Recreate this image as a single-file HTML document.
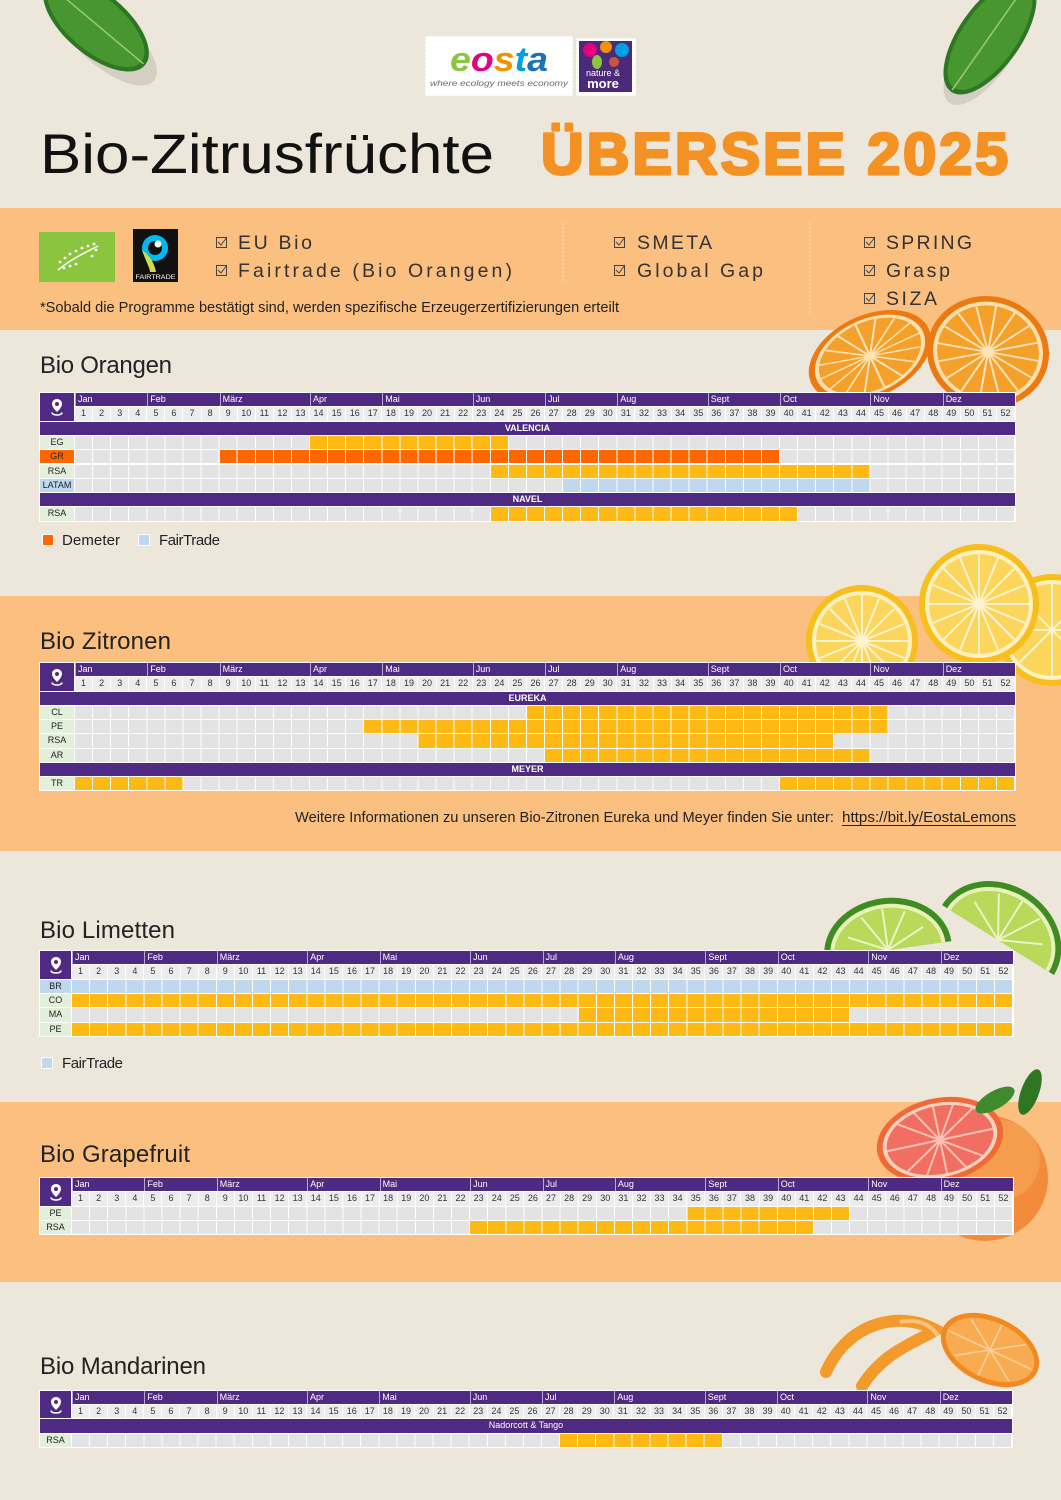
<!DOCTYPE html>
<html><head><meta charset="utf-8">
<style>
*{box-sizing:border-box}
body{margin:0;width:1061px;height:1500px;position:relative;overflow:hidden;background:#ede6da;font-family:"Liberation Sans",sans-serif;}
.band{position:absolute;left:0;width:1061px;background:#fbc080}
svg.deco{position:absolute;left:0;top:0}
.chart{position:absolute;background:#fff;box-shadow:0 0 0 1px #fff;font-size:9px;line-height:1;font-family:"Liberation Sans",sans-serif}
.chart>div{position:absolute;height:calc(var(--P) - 1px)}
.chart>.ic{left:0;top:0;width:calc(var(--L) - 1px);height:calc(var(--P)*2 - 1px);background:#4f2a82;display:flex;align-items:center;justify-content:center}
.chart>.m{left:var(--L);right:0;top:0;background:#4f2a82;color:#fff}
.m span{position:absolute;top:0;bottom:0;left:calc(var(--cw)*var(--s));padding-left:2px;border-left:1px solid #b7a7d4;line-height:calc(var(--P) - 1px)}
.chart>.w{left:var(--L);right:0;top:var(--P);display:flex;background:#fff}
.w span{flex:1;background:#ececec;margin-right:1px;text-align:center;color:#333;line-height:calc(var(--P) - 1px)}
.chart>.t{left:0;right:0;background:#4f2a82;color:#fff;font-weight:bold;text-align:center;line-height:calc(var(--P) - 1px)}
.chart>.d{left:0;right:0}
.lb{position:absolute;left:0;top:0;bottom:0;width:calc(var(--L) - 1px);background:#e2efda;text-align:center;font-weight:normal;color:#222;line-height:calc(var(--P) - 1px)}
.lb.o{background:#fe6700}.lb.b{background:#bfd7ef}
.g{position:absolute;left:var(--L);right:0;top:0;bottom:0;background:#e3e3e3;overflow:hidden}
.g i{position:absolute;top:0;bottom:0;left:calc(var(--cw)*var(--s));width:calc(var(--cw)*var(--n));background:#ffb915}
.g i.o{background:#fe6700}.g i.b{background:#bfd7ef}
.g:after{content:"";position:absolute;left:0;top:0;right:0;bottom:0;background:repeating-linear-gradient(90deg,transparent 0,transparent calc(var(--cw) - 1px),#fff calc(var(--cw) - 1px),#fff var(--cw))}
</style></head>
<body>

<div class="band" style="top:208px;height:122px"></div>
<div class="band" style="top:596px;height:255px"></div>
<div class="band" style="top:1102px;height:180px"></div>

<svg class="deco" width="1061" height="1500" viewBox="0 0 1061 1500" font-family="Liberation Sans, sans-serif">
  <!-- leaves -->
  <ellipse cx="108" cy="42" rx="60" ry="26" transform="rotate(40 108 42)" fill="#000" opacity="0.10"/>
  <g transform="translate(96,24) rotate(40)"><ellipse rx="64" ry="31" fill="#2f7622"/><ellipse rx="59" ry="27" fill="#489630"/><path d="M-62 0H62" stroke="#9cc87a" stroke-width="1.5"/></g>
  <ellipse cx="985" cy="52" rx="62" ry="26" transform="rotate(-55 985 52)" fill="#000" opacity="0.10"/>
  <g transform="translate(990,36) rotate(-55)"><ellipse rx="68" ry="31" fill="#2f7622"/><ellipse rx="63" ry="27" fill="#489630"/><path d="M-66 0H66" stroke="#9cc87a" stroke-width="1.5"/></g>

  <!-- logos -->
  <rect x="425" y="36" width="148" height="60" fill="#fff" stroke="#e4e4e4" stroke-dasharray="2 2"/>
  <text x="450" y="71" font-size="34" font-weight="bold" font-style="italic" textLength="98" lengthAdjust="spacingAndGlyphs"><tspan fill="#8cc63f">e</tspan><tspan fill="#e5007e">o</tspan><tspan fill="#f39200">s</tspan><tspan fill="#009fe3">t</tspan><tspan fill="#1d71b8">a</tspan></text>
  <text x="430" y="86" font-size="8.5" font-style="italic" fill="#6b6b6b" textLength="138" lengthAdjust="spacingAndGlyphs">where ecology meets economy</text>
  <rect x="576" y="38" width="60" height="58" fill="#fff" stroke="#e4e4e4" stroke-dasharray="2 2"/>
  <rect x="579" y="41" width="53" height="51" fill="#4b2a7b"/>
  <circle cx="590" cy="50" r="7" fill="#e5007e"/><circle cx="606" cy="47" r="6" fill="#f39200"/><circle cx="622" cy="50" r="7" fill="#009fe3"/><ellipse cx="597" cy="62" rx="5" ry="7" fill="#8cc63f"/><circle cx="614" cy="62" r="5" fill="#c8553d"/>
  <text x="603" y="76" font-size="9" fill="#fff" text-anchor="middle">nature &amp;</text>
  <text x="603" y="88" font-size="13" font-weight="bold" fill="#fff" text-anchor="middle">more</text>

  <!-- title -->
  <text x="40" y="173" font-size="56" fill="#111" textLength="454" lengthAdjust="spacingAndGlyphs">Bio-Zitrusfrüchte</text>
  <text x="541" y="174" font-size="58" font-weight="bold" fill="#f39223" stroke="#f39223" stroke-width="3" stroke-linejoin="round" textLength="470" lengthAdjust="spacingAndGlyphs" letter-spacing="3">ÜBERSEE 2025</text>

  <!-- certification band -->
  <rect x="39" y="232" width="76" height="50" fill="#8bc53f"/>
  <g fill="#fff"><circle cx="60" cy="262" r="1.4"/><circle cx="65" cy="258" r="1.4"/><circle cx="70" cy="254" r="1.4"/><circle cx="76" cy="251" r="1.4"/><circle cx="82" cy="248" r="1.4"/><circle cx="88" cy="246" r="1.4"/><circle cx="94" cy="244" r="1.4"/><circle cx="64" cy="268" r="1.4"/><circle cx="70" cy="266" r="1.4"/><circle cx="76" cy="264" r="1.4"/><circle cx="96" cy="250" r="1.4"/><circle cx="92" cy="256" r="1.4"/></g>
  <path d="M58 270C70 260 82 254 98 246" stroke="#fff" stroke-width="1.5" fill="none"/>
  <rect x="133" y="229" width="45" height="53" fill="#111"/>
  <circle cx="155" cy="248" r="13" fill="#00b9f2"/><circle cx="155" cy="248" r="7" fill="#111"/><path d="M142 250C146 262 150 268 150 272L156 272C154 262 150 256 142 250Z" fill="#c9dd4e"/><circle cx="158" cy="244" r="3.5" fill="#fff"/>
  <text x="155.5" y="279" font-size="6.5" fill="#fff" text-anchor="middle" textLength="40" lengthAdjust="spacingAndGlyphs">FAIRTRADE</text>

  <g stroke="#444" stroke-width="1" fill="none">
    <rect x="216.5" y="237.5" width="10" height="10"/><path d="M218 242l3 3 6-8"/>
    <rect x="216.5" y="265.5" width="10" height="10"/><path d="M218 270l3 3 6-8"/>
    <rect x="614.5" y="237.5" width="10" height="10"/><path d="M616 242l3 3 6-8"/>
    <rect x="614.5" y="265.5" width="10" height="10"/><path d="M616 270l3 3 6-8"/>
    <rect x="864.5" y="237.5" width="10" height="10"/><path d="M866 242l3 3 6-8"/>
    <rect x="864.5" y="265.5" width="10" height="10"/><path d="M866 270l3 3 6-8"/>
    <rect x="864.5" y="293.5" width="10" height="10"/><path d="M866 298l3 3 6-8"/>
  </g>
  <g font-size="19.5" fill="#333">
    <text x="238" y="249" textLength="74">EU Bio</text>
    <text x="238" y="277" textLength="274">Fairtrade (Bio Orangen)</text>
    <text x="637" y="249" textLength="75">SMETA</text>
    <text x="637" y="277" textLength="126">Global Gap</text>
    <text x="886" y="249" textLength="86">SPRING</text>
    <text x="886" y="277" textLength="64">Grasp</text>
    <text x="886" y="305" textLength="51">SIZA</text>
  </g>
  <path d="M563 223V283" stroke="#f6dcbc" stroke-width="1.2" stroke-dasharray="2 2"/>
  <path d="M810 223V313" stroke="#f6dcbc" stroke-width="1.2" stroke-dasharray="2 2"/>
  <text x="40" y="312" font-size="15" fill="#222" textLength="579" lengthAdjust="spacingAndGlyphs">*Sobald die Programme bestätigt sind, werden spezifische Erzeugerzertifizierungen erteilt</text>

  <!-- orange slices -->
  <g transform="translate(870,356) rotate(-25) scale(1.08,0.68)"><circle r="60" fill="#ec7a12"/><circle r="54" fill="#fce0ad"/><circle r="50" fill="#f6a02c"/><path d="M0-50V50M-50 0H50M-35-35L35 35M35-35L-35 35M-19-46L19 46M19-46L-19 46M-46-19L46 19M46-19L-46 19" stroke="#fde4b8" stroke-width="2"/><circle r="5" fill="#fde4b8"/></g>
  <g transform="translate(988,352) rotate(10) scale(1.02,0.93)"><circle r="60" fill="#ec7a12"/><circle r="54" fill="#fce0ad"/><circle r="50" fill="#f6a02c"/><path d="M0-50V50M-50 0H50M-35-35L35 35M35-35L-35 35M-19-46L19 46M19-46L-19 46M-46-19L46 19M46-19L-46 19" stroke="#fde4b8" stroke-width="2"/><circle r="5" fill="#fde4b8"/></g>

  <!-- lemons -->
  <g transform="translate(1052,630)"><circle r="56" fill="#f7be1e"/><circle r="50" fill="#fff2c0"/><circle r="46" fill="#fcd55c"/><path d="M0-46V46M-46 0H46M-32-32L32 32M32-32L-32 32" stroke="#fff4cf" stroke-width="2"/></g>
  <g transform="translate(862,641)"><circle r="56" fill="#f7be1e"/><circle r="50" fill="#fff2c0"/><circle r="46" fill="#fcd55c"/><path d="M0-46V46M-46 0H46M-32-32L32 32M32-32L-32 32M-17-42L17 42M17-42L-17 42M-42-17L42 17M42-17L-42 17" stroke="#fff4cf" stroke-width="2"/></g>
  <g transform="translate(979,604)"><circle r="60" fill="#f7be1e"/><circle r="54" fill="#fff2c0"/><circle r="50" fill="#fcd55c"/><path d="M0-50V50M-50 0H50M-35-35L35 35M35-35L-35 35M-19-46L19 46M19-46L-19 46M-46-19L46 19M46-19L-46 19" stroke="#fff4cf" stroke-width="2"/><circle r="4" fill="#fff4cf"/></g>

  <!-- limes -->
  <g transform="translate(888,950) rotate(-8)"><path d="M-64 0A64 52 0 0 1 64 0Z" fill="#3f8c22"/><path d="M-58 0A58 46 0 0 1 58 0Z" fill="#e8f2b8"/><path d="M-54 0A54 42 0 0 1 54 0Z" fill="#b9d95a"/><path d="M0 0V-42M0 0L-38-18M0 0L38-18M0 0L-22-36M0 0L22-36" stroke="#eaf4c4" stroke-width="2"/></g>
  <g transform="translate(998,940) rotate(32)"><path d="M-66 0A66 56 0 0 1 66 0Z" fill="#3f8c22"/><path d="M-60 0A60 50 0 0 1 60 0Z" fill="#e8f2b8"/><path d="M-56 0A56 46 0 0 1 56 0Z" fill="#b9d95a"/><path d="M0 0V-46M0 0L-40-20M0 0L40-20M0 0L-24-40M0 0L24-40" stroke="#eaf4c4" stroke-width="2"/></g>

  <!-- grapefruit -->
  <circle cx="985" cy="1178" r="63" fill="#f28c3a"/>
  <circle cx="1000" cy="1160" r="40" fill="#f7a65a" opacity="0.6"/>
  <g transform="translate(940,1140) rotate(-12)"><ellipse rx="64" ry="42" fill="#f06a38"/><ellipse rx="58" ry="37" fill="#fbd3c0"/><ellipse rx="54" ry="34" fill="#f06f62"/><path d="M0-34V34M-54 0H54M-38-24L38 24M38-24L-38 24M-20-32L20 32M20-32L-20 32" stroke="#fbc2b4" stroke-width="2"/></g>
  <ellipse cx="995" cy="1100" rx="22" ry="9" transform="rotate(-30 995 1100)" fill="#3e8a2c"/>
  <ellipse cx="1030" cy="1092" rx="24" ry="9" transform="rotate(-70 1030 1092)" fill="#2f7622"/>

  <!-- mandarin -->
  <path d="M826 1372C848 1322 900 1310 936 1330C912 1344 884 1352 862 1386" stroke="#f39a2c" stroke-width="12" fill="none" stroke-linecap="round"/>
  <path d="M900 1322C920 1318 932 1326 938 1336" stroke="#f7c27a" stroke-width="4" fill="none"/>
  <g transform="translate(990,1350) rotate(25)"><ellipse rx="52" ry="33" fill="#f08a20"/><ellipse rx="47" ry="28" fill="#f8ab50"/><path d="M-47 0H47M-30-20L30 20M30-20L-30 20M0-28V28" stroke="#fbd09a" stroke-width="1.6"/></g>

  <!-- section titles -->
  <g font-size="24" fill="#222">
    <text x="40" y="373" textLength="132">Bio Orangen</text>
    <text x="40" y="649" textLength="131">Bio Zitronen</text>
    <text x="40" y="938" textLength="135">Bio Limetten</text>
    <text x="40" y="1162" textLength="150">Bio Grapefruit</text>
    <text x="40" y="1374" textLength="166">Bio Mandarinen</text>
  </g>

  <!-- legends -->
  <rect x="42.5" y="534.5" width="11" height="11" fill="#fe6700" stroke="#fff"/>
  <text x="62" y="545" font-size="15" fill="#222" textLength="58">Demeter</text>
  <rect x="138.5" y="534.5" width="11" height="11" fill="#bfd7ef" stroke="#fff"/>
  <text x="159" y="545" font-size="15" fill="#222" textLength="61">FairTrade</text>
  <rect x="41.5" y="1057.5" width="11" height="11" fill="#bfd7ef" stroke="#fff"/>
  <text x="62" y="1068" font-size="15" fill="#222" textLength="61">FairTrade</text>

  <!-- info text -->
  <text x="295" y="822" font-size="14.5" fill="#222" textLength="539" lengthAdjust="spacingAndGlyphs">Weitere Informationen zu unseren Bio-Zitronen Eureka und Meyer finden Sie unter:</text>
  <text x="842" y="822" font-size="14.5" fill="#222" textLength="174" lengthAdjust="spacingAndGlyphs">https://bit.ly/EostaLemons</text>
  <path d="M842 825.5H1016" stroke="#222" stroke-width="1"/>
</svg>

<!-- ORANGEN -->
<div class="chart" style="left:40px;top:393px;width:975px;height:127.7px;--P:14.3px;--L:35px;--cw:18.0769px">
 <div class="ic"><svg width="14" height="18" viewBox="0 0 14 18"><path d="M7 1C4 1 2 3.2 2 6c0 3.5 5 8 5 8s5-4.5 5-8c0-2.8-2-5-5-5z" fill="#fff"/><circle cx="7" cy="6" r="2" fill="#4f2a82"/><path d="M2 14.5c0 1.5 2.2 2.5 5 2.5s5-1 5-2.5" stroke="#fff" stroke-width="1.6" fill="none"/></svg></div>
 <div class="m"><span style="--s:0">Jan</span><span style="--s:4">Feb</span><span style="--s:8">März</span><span style="--s:13">Apr</span><span style="--s:17">Mai</span><span style="--s:22">Jun</span><span style="--s:26">Jul</span><span style="--s:30">Aug</span><span style="--s:35">Sept</span><span style="--s:39">Oct</span><span style="--s:44">Nov</span><span style="--s:48">Dez</span></div>
 <div class="w"><span>1</span><span>2</span><span>3</span><span>4</span><span>5</span><span>6</span><span>7</span><span>8</span><span>9</span><span>10</span><span>11</span><span>12</span><span>13</span><span>14</span><span>15</span><span>16</span><span>17</span><span>18</span><span>19</span><span>20</span><span>21</span><span>22</span><span>23</span><span>24</span><span>25</span><span>26</span><span>27</span><span>28</span><span>29</span><span>30</span><span>31</span><span>32</span><span>33</span><span>34</span><span>35</span><span>36</span><span>37</span><span>38</span><span>39</span><span>40</span><span>41</span><span>42</span><span>43</span><span>44</span><span>45</span><span>46</span><span>47</span><span>48</span><span>49</span><span>50</span><span>51</span><span>52</span></div>
 <div class="t" style="top:calc(var(--P)*2)">VALENCIA</div>
 <div class="d" style="top:calc(var(--P)*3)"><b class="lb">EG</b><div class="g"><i style="--s:13;--n:11"></i></div></div>
 <div class="d" style="top:calc(var(--P)*4)"><b class="lb o">GR</b><div class="g"><i class="o" style="--s:8;--n:31"></i></div></div>
 <div class="d" style="top:calc(var(--P)*5)"><b class="lb">RSA</b><div class="g"><i style="--s:23;--n:21"></i></div></div>
 <div class="d" style="top:calc(var(--P)*6)"><b class="lb b">LATAM</b><div class="g"><i class="b" style="--s:27;--n:17"></i></div></div>
 <div class="t" style="top:calc(var(--P)*7)">NAVEL</div>
 <div class="d" style="top:calc(var(--P)*8)"><b class="lb">RSA</b><div class="g"><i style="--s:23;--n:17"></i></div></div>
</div>

<!-- ZITRONEN -->
<div class="chart" style="left:40px;top:663px;width:975px;height:127.25px;--P:14.25px;--L:35px;--cw:18.0769px">
 <div class="ic"><svg width="14" height="18" viewBox="0 0 14 18"><path d="M7 1C4 1 2 3.2 2 6c0 3.5 5 8 5 8s5-4.5 5-8c0-2.8-2-5-5-5z" fill="#fff"/><circle cx="7" cy="6" r="2" fill="#4f2a82"/><path d="M2 14.5c0 1.5 2.2 2.5 5 2.5s5-1 5-2.5" stroke="#fff" stroke-width="1.6" fill="none"/></svg></div>
 <div class="m"><span style="--s:0">Jan</span><span style="--s:4">Feb</span><span style="--s:8">März</span><span style="--s:13">Apr</span><span style="--s:17">Mai</span><span style="--s:22">Jun</span><span style="--s:26">Jul</span><span style="--s:30">Aug</span><span style="--s:35">Sept</span><span style="--s:39">Oct</span><span style="--s:44">Nov</span><span style="--s:48">Dez</span></div>
 <div class="w"><span>1</span><span>2</span><span>3</span><span>4</span><span>5</span><span>6</span><span>7</span><span>8</span><span>9</span><span>10</span><span>11</span><span>12</span><span>13</span><span>14</span><span>15</span><span>16</span><span>17</span><span>18</span><span>19</span><span>20</span><span>21</span><span>22</span><span>23</span><span>24</span><span>25</span><span>26</span><span>27</span><span>28</span><span>29</span><span>30</span><span>31</span><span>32</span><span>33</span><span>34</span><span>35</span><span>36</span><span>37</span><span>38</span><span>39</span><span>40</span><span>41</span><span>42</span><span>43</span><span>44</span><span>45</span><span>46</span><span>47</span><span>48</span><span>49</span><span>50</span><span>51</span><span>52</span></div>
 <div class="t" style="top:calc(var(--P)*2)">EUREKA</div>
 <div class="d" style="top:calc(var(--P)*3)"><b class="lb">CL</b><div class="g"><i style="--s:25;--n:20"></i></div></div>
 <div class="d" style="top:calc(var(--P)*4)"><b class="lb">PE</b><div class="g"><i style="--s:16;--n:29"></i></div></div>
 <div class="d" style="top:calc(var(--P)*5)"><b class="lb">RSA</b><div class="g"><i style="--s:19;--n:23"></i></div></div>
 <div class="d" style="top:calc(var(--P)*6)"><b class="lb">AR</b><div class="g"><i style="--s:26;--n:18"></i></div></div>
 <div class="t" style="top:calc(var(--P)*7)">MEYER</div>
 <div class="d" style="top:calc(var(--P)*8)"><b class="lb">TR</b><div class="g"><i style="--s:0;--n:6"></i><i style="--s:39;--n:13"></i></div></div>
</div>

<!-- LIMETTEN -->
<div class="chart" style="left:40px;top:951px;width:973px;height:85.1px;--P:14.35px;--L:32px;--cw:18.0962px">
 <div class="ic"><svg width="14" height="18" viewBox="0 0 14 18"><path d="M7 1C4 1 2 3.2 2 6c0 3.5 5 8 5 8s5-4.5 5-8c0-2.8-2-5-5-5z" fill="#fff"/><circle cx="7" cy="6" r="2" fill="#4f2a82"/><path d="M2 14.5c0 1.5 2.2 2.5 5 2.5s5-1 5-2.5" stroke="#fff" stroke-width="1.6" fill="none"/></svg></div>
 <div class="m"><span style="--s:0">Jan</span><span style="--s:4">Feb</span><span style="--s:8">März</span><span style="--s:13">Apr</span><span style="--s:17">Mai</span><span style="--s:22">Jun</span><span style="--s:26">Jul</span><span style="--s:30">Aug</span><span style="--s:35">Sept</span><span style="--s:39">Oct</span><span style="--s:44">Nov</span><span style="--s:48">Dez</span></div>
 <div class="w"><span>1</span><span>2</span><span>3</span><span>4</span><span>5</span><span>6</span><span>7</span><span>8</span><span>9</span><span>10</span><span>11</span><span>12</span><span>13</span><span>14</span><span>15</span><span>16</span><span>17</span><span>18</span><span>19</span><span>20</span><span>21</span><span>22</span><span>23</span><span>24</span><span>25</span><span>26</span><span>27</span><span>28</span><span>29</span><span>30</span><span>31</span><span>32</span><span>33</span><span>34</span><span>35</span><span>36</span><span>37</span><span>38</span><span>39</span><span>40</span><span>41</span><span>42</span><span>43</span><span>44</span><span>45</span><span>46</span><span>47</span><span>48</span><span>49</span><span>50</span><span>51</span><span>52</span></div>
 <div class="d" style="top:calc(var(--P)*2)"><b class="lb b">BR</b><div class="g"><i class="b" style="--s:0;--n:52"></i></div></div>
 <div class="d" style="top:calc(var(--P)*3)"><b class="lb">CO</b><div class="g"><i style="--s:0;--n:52"></i></div></div>
 <div class="d" style="top:calc(var(--P)*4)"><b class="lb">MA</b><div class="g"><i style="--s:28;--n:15"></i></div></div>
 <div class="d" style="top:calc(var(--P)*5)"><b class="lb">PE</b><div class="g"><i style="--s:0;--n:52"></i></div></div>
</div>

<!-- GRAPEFRUIT -->
<div class="chart" style="left:40px;top:1178px;width:973px;height:56.2px;--P:14.3px;--L:32px;--cw:18.0962px">
 <div class="ic"><svg width="14" height="18" viewBox="0 0 14 18"><path d="M7 1C4 1 2 3.2 2 6c0 3.5 5 8 5 8s5-4.5 5-8c0-2.8-2-5-5-5z" fill="#fff"/><circle cx="7" cy="6" r="2" fill="#4f2a82"/><path d="M2 14.5c0 1.5 2.2 2.5 5 2.5s5-1 5-2.5" stroke="#fff" stroke-width="1.6" fill="none"/></svg></div>
 <div class="m"><span style="--s:0">Jan</span><span style="--s:4">Feb</span><span style="--s:8">März</span><span style="--s:13">Apr</span><span style="--s:17">Mai</span><span style="--s:22">Jun</span><span style="--s:26">Jul</span><span style="--s:30">Aug</span><span style="--s:35">Sept</span><span style="--s:39">Oct</span><span style="--s:44">Nov</span><span style="--s:48">Dez</span></div>
 <div class="w"><span>1</span><span>2</span><span>3</span><span>4</span><span>5</span><span>6</span><span>7</span><span>8</span><span>9</span><span>10</span><span>11</span><span>12</span><span>13</span><span>14</span><span>15</span><span>16</span><span>17</span><span>18</span><span>19</span><span>20</span><span>21</span><span>22</span><span>23</span><span>24</span><span>25</span><span>26</span><span>27</span><span>28</span><span>29</span><span>30</span><span>31</span><span>32</span><span>33</span><span>34</span><span>35</span><span>36</span><span>37</span><span>38</span><span>39</span><span>40</span><span>41</span><span>42</span><span>43</span><span>44</span><span>45</span><span>46</span><span>47</span><span>48</span><span>49</span><span>50</span><span>51</span><span>52</span></div>
 <div class="d" style="top:calc(var(--P)*2)"><b class="lb">PE</b><div class="g"><i style="--s:34;--n:9"></i></div></div>
 <div class="d" style="top:calc(var(--P)*3)"><b class="lb">RSA</b><div class="g"><i style="--s:22;--n:19"></i></div></div>
</div>

<!-- MANDARINEN -->
<div class="chart" style="left:40px;top:1391px;width:972px;height:55.8px;--P:14.2px;--L:32px;--cw:18.0769px">
 <div class="ic"><svg width="14" height="18" viewBox="0 0 14 18"><path d="M7 1C4 1 2 3.2 2 6c0 3.5 5 8 5 8s5-4.5 5-8c0-2.8-2-5-5-5z" fill="#fff"/><circle cx="7" cy="6" r="2" fill="#4f2a82"/><path d="M2 14.5c0 1.5 2.2 2.5 5 2.5s5-1 5-2.5" stroke="#fff" stroke-width="1.6" fill="none"/></svg></div>
 <div class="m"><span style="--s:0">Jan</span><span style="--s:4">Feb</span><span style="--s:8">März</span><span style="--s:13">Apr</span><span style="--s:17">Mai</span><span style="--s:22">Jun</span><span style="--s:26">Jul</span><span style="--s:30">Aug</span><span style="--s:35">Sept</span><span style="--s:39">Oct</span><span style="--s:44">Nov</span><span style="--s:48">Dez</span></div>
 <div class="w"><span>1</span><span>2</span><span>3</span><span>4</span><span>5</span><span>6</span><span>7</span><span>8</span><span>9</span><span>10</span><span>11</span><span>12</span><span>13</span><span>14</span><span>15</span><span>16</span><span>17</span><span>18</span><span>19</span><span>20</span><span>21</span><span>22</span><span>23</span><span>24</span><span>25</span><span>26</span><span>27</span><span>28</span><span>29</span><span>30</span><span>31</span><span>32</span><span>33</span><span>34</span><span>35</span><span>36</span><span>37</span><span>38</span><span>39</span><span>40</span><span>41</span><span>42</span><span>43</span><span>44</span><span>45</span><span>46</span><span>47</span><span>48</span><span>49</span><span>50</span><span>51</span><span>52</span></div>
 <div class="t" style="top:calc(var(--P)*2);font-weight:normal">Nadorcott &amp; Tango</div>
 <div class="d" style="top:calc(var(--P)*3)"><b class="lb">RSA</b><div class="g"><i style="--s:27;--n:9"></i></div></div>
</div>

</body></html>
